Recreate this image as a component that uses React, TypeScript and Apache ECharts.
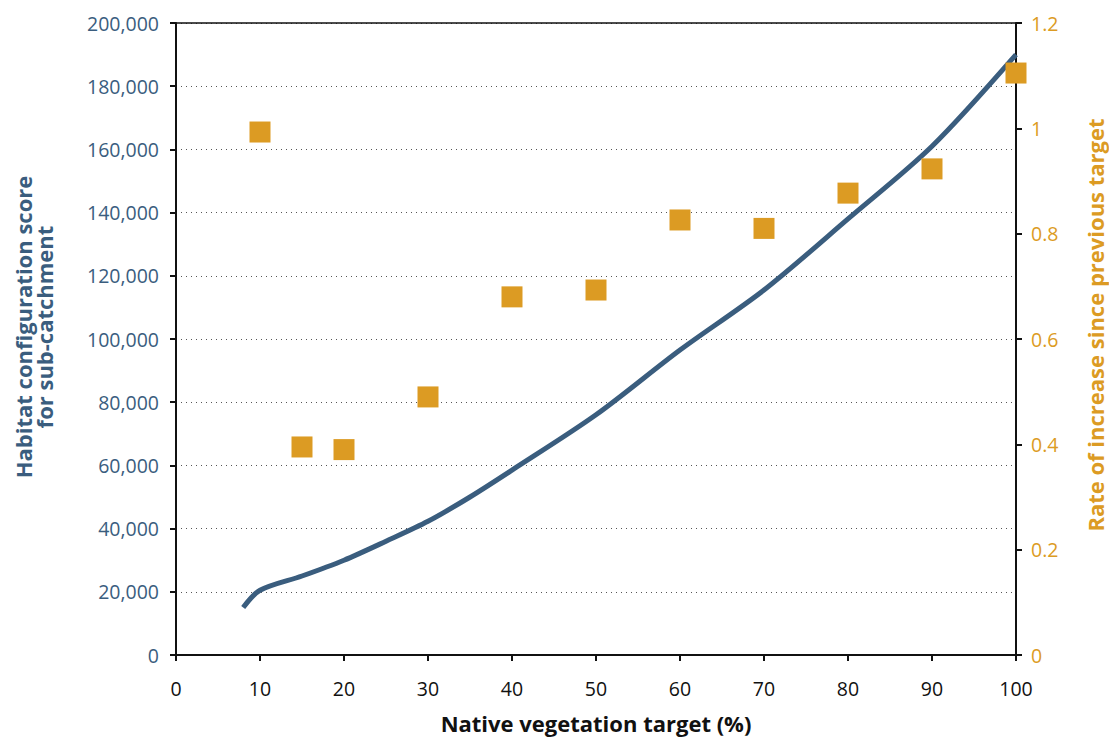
import React, { useEffect, useRef } from "react";
import * as echarts from "echarts";

const lineX = [8, 10, 15, 20, 25, 30, 35, 40, 50, 60, 70, 80, 90, 100];
const lineY = [15000, 20500, 25000, 30000, 36000, 42300, 50000, 58500, 76000, 96500, 115500, 138000, 161000, 190000];

const rateX = [10, 15, 20, 30, 40, 50, 60, 70, 80, 90, 100];
const rateY = [0.993, 0.395, 0.39, 0.49, 0.68, 0.693, 0.826, 0.81, 0.877, 0.923, 1.105];

const BLUE = "#3a5d7e";
const ORANGE = "#dc9b23";
const FONT = "Open Sans";

export default function App() {
  const ref = useRef<HTMLDivElement>(null);
  useEffect(() => {
    if (!ref.current) return;
    const chart = echarts.init(ref.current, null, { renderer: "svg" });
    chart.setOption({
      animation: false,
      textStyle: { fontFamily: FONT },
      grid: { left: 176, right: 93, top: 23, bottom: 86, containLabel: false, outerBoundsMode: "none" },
      xAxis: [
        {
          type: "value",
          min: 0,
          max: 100,
          interval: 10,
          name: "Native vegetation target (%)",
          nameLocation: "middle",
          nameGap: 57,
          nameTextStyle: { fontFamily: FONT, fontSize: 22, fontWeight: "bold", color: "#111" },
          axisLine: { show: true, lineStyle: { color: "#111", width: 2 } },
          axisTick: { show: true, length: 6, lineStyle: { color: "#111", width: 2 } },
          axisLabel: { fontFamily: FONT, fontSize: 19.5, color: "#111", margin: 23 },
          splitLine: { show: false },
        },
        {
          type: "value",
          position: "top",
          min: 0,
          max: 100,
          axisLine: { show: true, onZero: false, lineStyle: { color: "#111", width: 1.5 } },
          axisTick: { show: false },
          axisLabel: { show: false },
          splitLine: { show: false },
        },
      ],
      yAxis: [
        {
          type: "value",
          min: 0,
          max: 200000,
          interval: 20000,
          position: "left",
          name: "Habitat configuration score\nfor sub-catchment",
          nameLocation: "middle",
          nameRotate: 90,
          nameGap: 122,
          nameTextStyle: {
            fontFamily: FONT,
            fontSize: 22,
            fontWeight: "bold",
            color: BLUE,
            lineHeight: 21,
            padding: [0, 0, 0, 24],
          },
          axisLine: { show: true, onZero: false, lineStyle: { color: "#111", width: 2 } },
          axisTick: { show: true, length: 6, lineStyle: { color: "#111", width: 2 } },
          axisLabel: {
            fontFamily: FONT,
            fontSize: 19.5,
            color: BLUE,
            margin: 17,
            formatter: (v: number) => v.toLocaleString("en-US"),
          },
          splitLine: { show: true, lineStyle: { color: "#555", type: [1, 4], width: 1 } },
        },
        {
          type: "value",
          min: 0,
          max: 1.2,
          interval: 0.2,
          position: "right",
          name: "Rate of increase since previous target",
          nameLocation: "middle",
          nameRotate: 90,
          nameGap: 68,
          nameTextStyle: {
            fontFamily: FONT,
            fontSize: 22,
            fontWeight: "bold",
            color: ORANGE,
            padding: [0, 0, 0, 28],
          },
          axisLine: { show: true, onZero: false, lineStyle: { color: "#111", width: 2 } },
          axisTick: { show: true, length: 6, lineStyle: { color: "#111", width: 2 } },
          axisLabel: {
            fontFamily: FONT,
            fontSize: 19.5,
            color: ORANGE,
            margin: 15,
            formatter: (v: number) => String(Math.round(v * 10) / 10),
          },
          splitLine: { show: false },
        },
      ],
      series: [
        {
          type: "line",
          xAxisIndex: 0,
          yAxisIndex: 0,
          data: lineX.map((x, i) => [x, lineY[i]]),
          smooth: 0.3,
          showSymbol: false,
          lineStyle: { color: BLUE, width: 5 },
          z: 3,
        },
        {
          type: "scatter",
          xAxisIndex: 0,
          yAxisIndex: 1,
          data: rateX.map((x, i) => [x, rateY[i]]),
          symbol: "rect",
          symbolSize: 21,
          itemStyle: { color: ORANGE, opacity: 1 },
          z: 4,
        },
      ],
    });
    return () => chart.dispose();
  }, []);
  return (
    <div
      ref={ref}
      style={{ position: "fixed", left: 0, top: 0, width: 1109, height: 741, background: "#fff" }}
    />
  );
}
